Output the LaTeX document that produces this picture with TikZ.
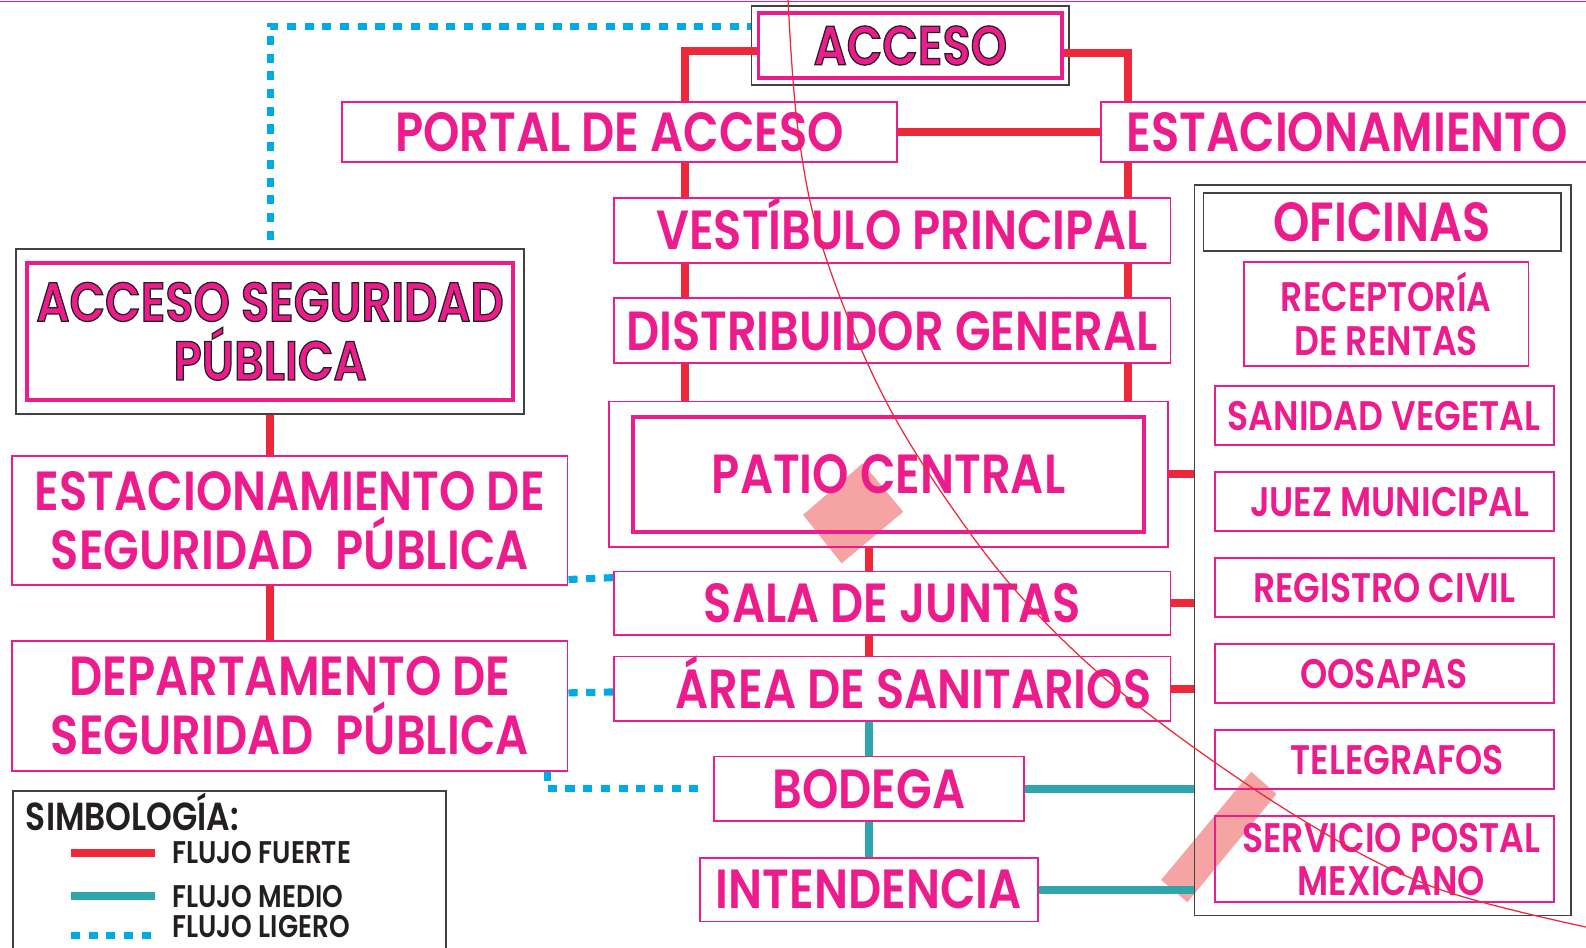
\documentclass[tikz,border=0pt]{standalone}
\usepackage{fontspec}
\setmainfont{Poppins}[FakeStretch=0.84, BoldFont={Poppins SemiBold}]
\usepackage{tikz}
\usetikzlibrary{positioning, fit, calc, backgrounds}

\definecolor{rosa}{RGB}{236,28,140}
\definecolor{rojo}{RGB}{237,40,56}
\definecolor{verde}{RGB}{46,166,172}
\definecolor{azul}{RGB}{0,170,230}
\definecolor{tinta}{RGB}{35,31,32}
\definecolor{salmon}{RGB}{245,163,163}

\newcommand{\grande}{\fontsize{15.5}{16.5}\selectfont\bfseries}
\newcommand{\mediano}{\fontsize{15.5}{16.5}\selectfont\bfseries}
\newcommand{\chico}{\fontsize{11.6}{12.2}\selectfont\bfseries}
\newcommand{\rotulo}{\fontsize{11}{12}\selectfont\bfseries}
\newcommand{\flujo}{\fontsize{8.8}{10}\selectfont\bfseries}
% letras rellenas con contorno oscuro
\newcommand{\contorno}[1]{\special{pdf:literal direct 2 Tr 0.35 w 0.14 0.12 0.13 RG}#1\special{pdf:literal direct 0 Tr}}

\tikzset{
  caja/.style={
    rectangle, draw=rosa, line width=0.5pt,
    text=rosa, align=center, inner sep=0pt, font=\grande
  },
  cajadoble/.style={caja, line width=1.1pt},
  subcaja/.style={caja, font=\chico},
  marco/.style={rectangle, draw=tinta!85, line width=0.5pt, inner sep=0pt},
  acento/.style={text height=10.9pt, text depth=0pt},
  fuerte/.style={draw=rojo, line width=0.08cm},
  medio/.style={draw=verde, line width=0.08cm},
  ligero/.style={draw=azul, line width=0.07cm, dash pattern=on 0.09cm off 0.085cm},
  leyenda/.style={font=\flujo, text=tinta, anchor=west, inner sep=0pt},
}

\begin{document}
\begin{tikzpicture}[x=0.01cm, y=-0.01cm]
  \useasboundingbox (0,0) rectangle (1568,937);
  \clip (0,0) rectangle (1568,937);

  \fill[salmon] (853,458) -- (893,506) -- (832,557) -- (794,509) -- cycle;
  \fill[salmon] (1237,763) -- (1262,785) -- (1174,892) -- (1148,870) -- cycle;

  \draw[rosa, line width=0.5pt] (0,1.5) -- (1568,1.5);

  % eje central
  \node[cajadoble, minimum width=3cm, minimum height=0.64cm] (acceso) at (900,45) {\contorno{ACCESO}};
  \node[marco, fit=(acceso), inner sep=0.05cm] (accesoM) {};

  \node[caja, minimum width=5.49cm, minimum height=0.59cm] (portal) at (612.5,130.5) {PORTAL DE ACCESO};
  \node[caja, minimum width=4.86cm, minimum height=0.59cm] (estac) at (1332,130.5) {ESTACIONAMIENTO};
  \node[caja, acento, minimum width=5.5cm, minimum height=0.64cm] (vestib) at (882,228) {\hspace*{5.7pt}VESTÍBULO PRINCIPAL};
  \node[caja, minimum width=5.5cm, minimum height=0.64cm] (distrib) at (882,327) {DISTRIBUIDOR GENERAL};
  \node[cajadoble, minimum width=5.05cm, minimum height=1.14cm] (patio) at (878.5,469) {PATIO CENTRAL};
  \node[caja, fit=(patio), inner xsep=0.22cm, inner ysep=0.13cm] (patioM) {};
  \node[caja, minimum width=5.5cm, minimum height=0.63cm] (sala) at (882,596.5) {SALA DE JUNTAS};
  \node[caja, acento, minimum width=5.5cm, minimum height=0.64cm] (sanit) at (882,681) {\hspace*{12pt}ÁREA DE SANITARIOS};
  \node[caja, minimum width=3.06cm, minimum height=0.64cm] (bodega) at (859,780) {BODEGA};
  \node[caja, minimum width=3.34cm, minimum height=0.63cm] (intend) at (859,879.5) {INTENDENCIA};

  % oficinas
  \node[marco, minimum width=3.72cm, minimum height=7.22cm] (ofic) at (1367,544) {};
  \node[marco, minimum width=3.53cm, minimum height=0.57cm, text=rosa, font=\mediano] (oficT) at (1366.5,219.5) {OFICINAS};
  \node[subcaja, minimum width=2.81cm, minimum height=1.03cm] (recep) at (1370.5,310.5) {RECEPTORÍA\\DE RENTAS};
  \node[subcaja, minimum width=3.35cm, minimum height=0.58cm] (sanidad) at (1368.5,411) {SANIDAD VEGETAL};
  \node[subcaja, minimum width=3.35cm, minimum height=0.58cm] (juez) at (1368.5,496) {\hspace*{3pt}JUEZ MUNICIPAL};
  \node[subcaja, minimum width=3.35cm, minimum height=0.58cm] (registro) at (1368.5,581) {REGISTRO CIVIL};
  \node[subcaja, minimum width=3.35cm, minimum height=0.58cm] (oosapas) at (1368.5,666) {OOSAPAS};
  \node[subcaja, minimum width=3.35cm, minimum height=0.58cm] (telegr) at (1368.5,751) {\hspace*{7.4pt}TELEGRAFOS};
  \node[subcaja, minimum width=3.35cm, minimum height=0.85cm] (postal) at (1368.5,849.5) {\hspace*{4pt}SERVICIO POSTAL\\\hspace*{4pt}MEXICANO};

  % seguridad publica
  \node[cajadoble, minimum width=4.8cm, minimum height=1.35cm] (acs) at (267,327.5)
       {\contorno{ACCESO SEGURIDAD}\\\contorno{PÚBLICA}};
  \node[marco, fit=(acs), inner xsep=0.09cm, inner ysep=0.12cm] (acsM) {};
  \node[caja, minimum width=5.49cm, minimum height=1.27cm] (estsp) at (286.5,514.5)
       {ESTACIONAMIENTO DE\\SEGURIDAD\ \ PÚBLICA};
  \node[caja, minimum width=5.49cm, minimum height=1.28cm] (depto) at (286.5,698)
       {DEPARTAMENTO DE\\SEGURIDAD\ \ PÚBLICA};

  \coordinate (ejeI) at (677,0);
  \coordinate (ejeD) at (1115,0);

  % flujo fuerte
  \draw[fuerte] ($(acceso.west)+(0,5)$) -| (portal.north -| ejeI);
  \draw[fuerte] ($(acceso.east)+(0,7)$) -| (estac.north -| ejeD);
  \draw[fuerte] (portal.east) -- (estac.west);
  \draw[fuerte] (portal.south -| ejeI) -- (vestib.north -| ejeI);
  \draw[fuerte] (vestib.south -| ejeI) -- (distrib.north -| ejeI);
  \draw[fuerte] (distrib.south -| ejeI) -- (patioM.north -| ejeI);
  \draw[fuerte] (estac.south -| ejeD) -- (vestib.north -| ejeD);
  \draw[fuerte] (vestib.south -| ejeD) -- (distrib.north -| ejeD);
  \draw[fuerte] (distrib.south -| ejeD) -- (patioM.north -| ejeD);
  \draw[fuerte] (patioM.south -| bodega.north) -- (sala.north -| bodega.north);
  \draw[fuerte] (sala.south -| bodega.north) -- (sanit.north -| bodega.north);
  \draw[fuerte] (patioM.east) -- (patioM.east -| ofic.west);
  \draw[fuerte] (sala.east) -- (sala.east -| ofic.west);
  \draw[fuerte] (sanit.east) -- (sanit.east -| ofic.west);
  \draw[fuerte] (acsM.south) -- (acsM.south |- estsp.north);
  \draw[fuerte] (acsM.south |- estsp.south) -- (acsM.south |- depto.north);

  % flujo medio
  \draw[medio] (sanit.south -| bodega.north) -- (bodega.north);
  \draw[medio] (bodega.south) -- (intend.north);
  \draw[medio] (bodega.east) -- (bodega.east -| ofic.west);
  \draw[medio] (intend.east) -- (intend.east -| ofic.west);

  % flujo ligero
  \draw[ligero] ($(acsM.north)+(0,-8)$) |- ($(accesoM.north west)+(0,21)$);
  \draw[ligero] ($(estsp.south east)+(0,-6)$) -- ($(sala.north west)+(0,7)$);
  \draw[ligero] ($(depto.east)+(0,-13)$) -- ($(sanit.north west)+(0,36)$);
  \draw[ligero] ($(depto.south east)+(-21,0)$) |- ($(bodega.west)+(-6,0)$);

  % simbologia
  \node[marco, minimum width=4.28cm, minimum height=1.9cm, anchor=north west] (simb) at (12,781) {};
  \node[leyenda, font=\rotulo] (simbT) at (25,803) {SIMBOLOGÍA:};
  \node[leyenda] (lFuerte) at (170,843) {FLUJO FUERTE};
  \node[leyenda] (lMedio) at (170,886) {FLUJO MEDIO};
  \node[leyenda] (lLigero) at (170,916) {FLUJO LIGERO};
  \draw[fuerte] (70,843) -- (153,843);
  \draw[medio] (70,886) -- (153,886);
  \draw[ligero] (70,925) -- (153,925);

  \draw[rojo, line width=0.35pt] plot[smooth, tension=0.6] coordinates {(779,-2) (789,129) (814,247) (875,395) (959,527) (1038,620) (1137,707) (1285,809) (1417,877) (1575,918)};
\end{tikzpicture}
\end{document}
